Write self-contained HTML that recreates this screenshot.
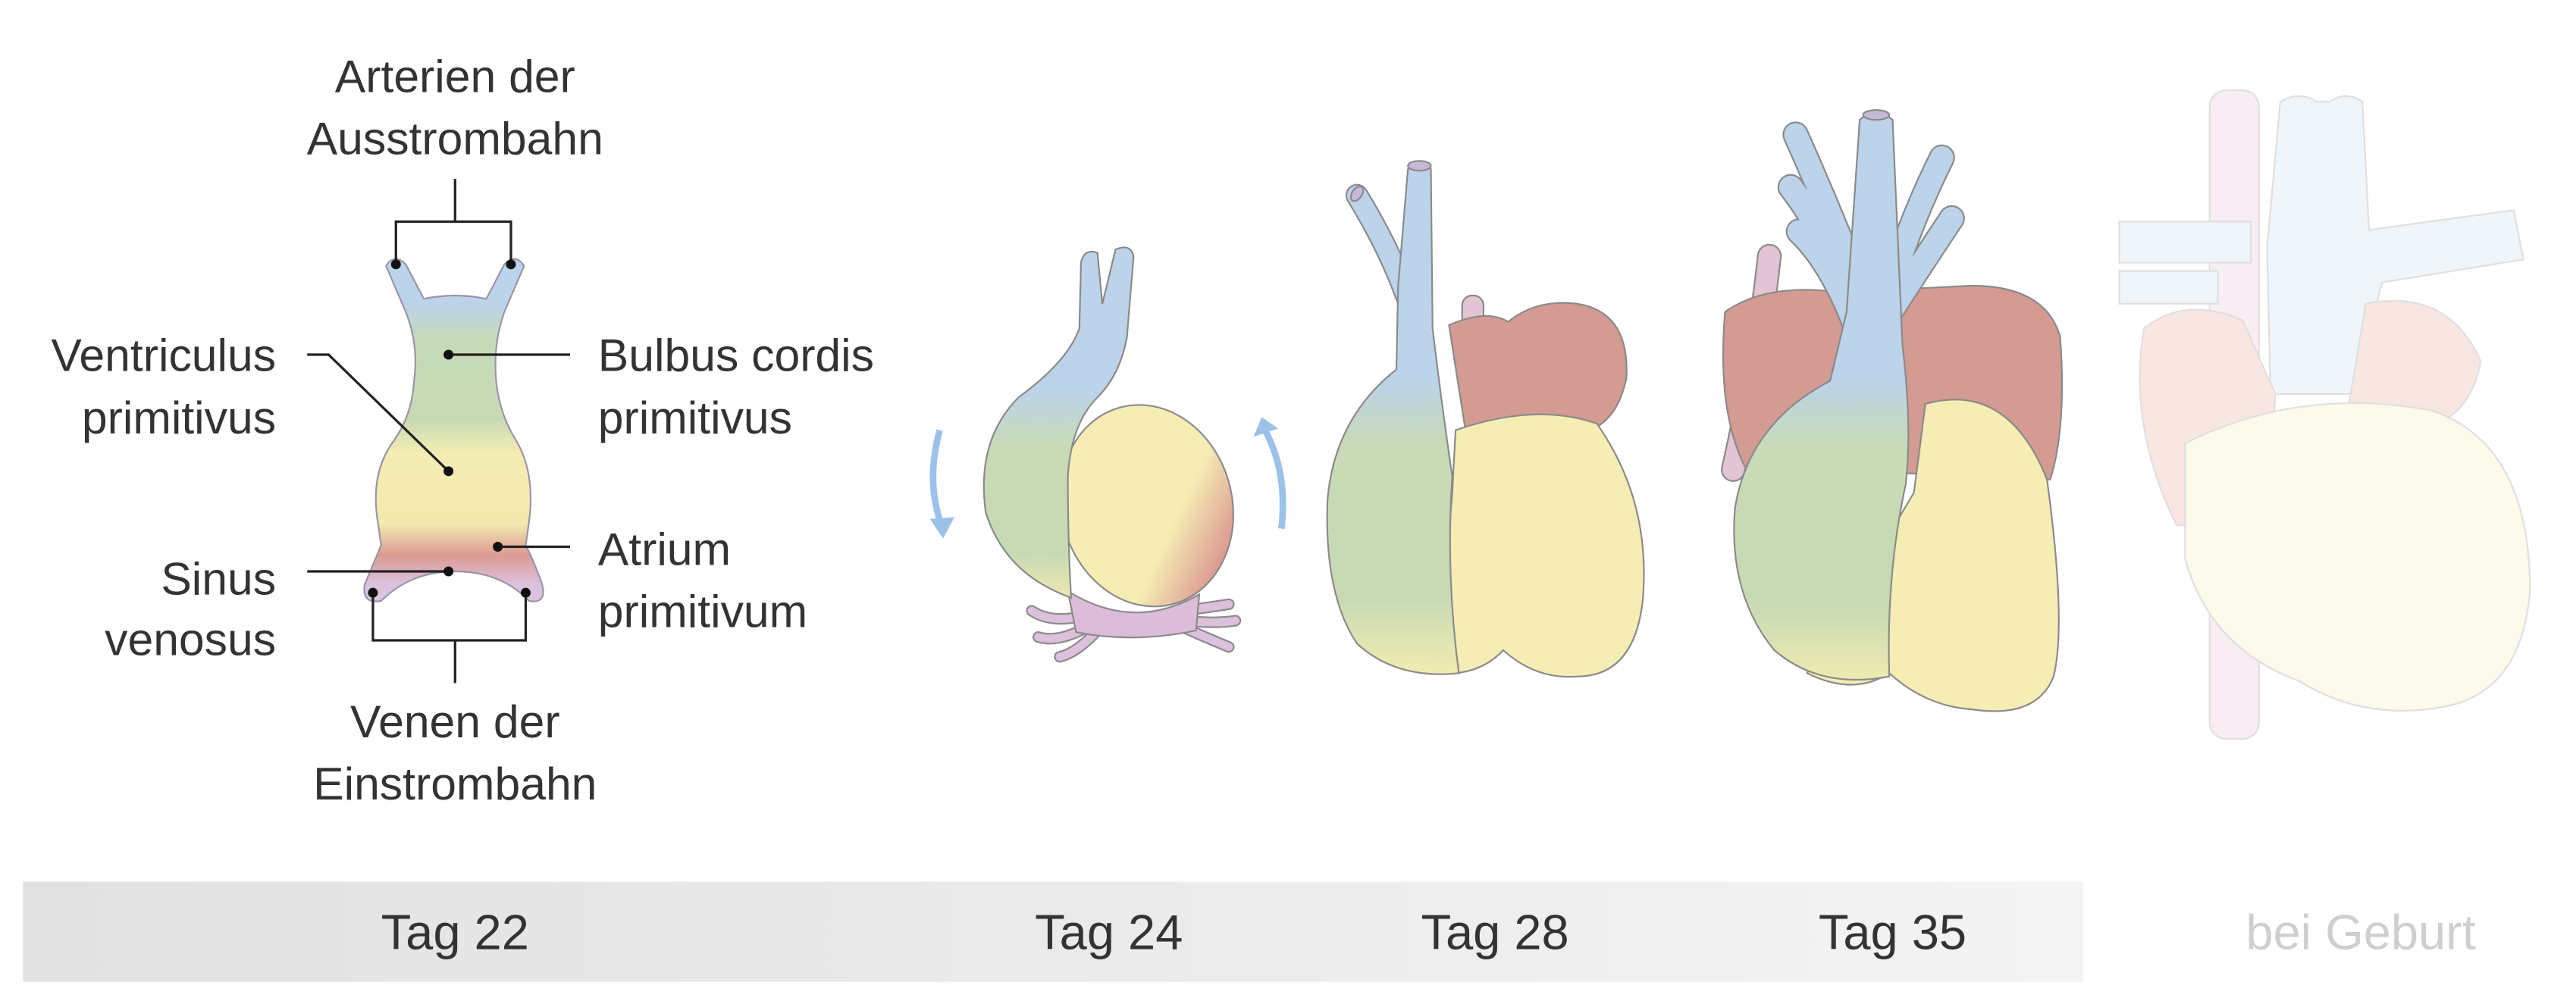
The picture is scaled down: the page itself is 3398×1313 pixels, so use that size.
<!DOCTYPE html>
<html><head><meta charset="utf-8"><style>
html,body{margin:0;padding:0;background:#fff;}
svg{display:block;}
text{font-family:"Liberation Sans",sans-serif;fill:#333;}
</style></head><body>
<svg width="3398" height="1313" viewBox="0 0 1568 606" preserveAspectRatio="none" xmlns="http://www.w3.org/2000/svg">
<defs>
<linearGradient id="tube" x1="0" y1="160" x2="0" y2="372" gradientUnits="userSpaceOnUse">
<stop offset="0" stop-color="#bcd3ea"/><stop offset="0.12" stop-color="#bcd3ea"/><stop offset="0.22" stop-color="#c6dab8"/><stop offset="0.45" stop-color="#c8dab4"/><stop offset="0.55" stop-color="#f4edb2"/><stop offset="0.75" stop-color="#f4eab0"/><stop offset="0.84" stop-color="#dc9a92"/><stop offset="0.92" stop-color="#dcc0dc"/><stop offset="1" stop-color="#dcc6e0"/>
</linearGradient>
<linearGradient id="bg" x1="0" y1="0" x2="1" y2="0">
<stop offset="0" stop-color="#e2e2e2"/><stop offset="0.6" stop-color="#ececec"/><stop offset="1" stop-color="#f4f4f4"/>
</linearGradient>
<linearGradient id="g24" x1="0" y1="150" x2="0" y2="370" gradientUnits="userSpaceOnUse">
<stop offset="0" stop-color="#bcd3ea"/><stop offset="0.4" stop-color="#bcd3ea"/><stop offset="0.55" stop-color="#c8dab6"/><stop offset="0.85" stop-color="#c8dab4"/><stop offset="1" stop-color="#f3ecb0"/>
</linearGradient>
<linearGradient id="g28" x1="0" y1="100" x2="0" y2="412" gradientUnits="userSpaceOnUse">
<stop offset="0" stop-color="#bcd3ea"/><stop offset="0.42" stop-color="#bcd3ea"/><stop offset="0.55" stop-color="#c8dab6"/><stop offset="0.85" stop-color="#c8dab4"/><stop offset="1" stop-color="#f3ecb0"/>
</linearGradient>
<linearGradient id="g35" x1="0" y1="70" x2="0" y2="420" gradientUnits="userSpaceOnUse">
<stop offset="0" stop-color="#bcd3ea"/><stop offset="0.46" stop-color="#bcd3ea"/><stop offset="0.58" stop-color="#c8dab6"/><stop offset="0.85" stop-color="#c8dab4"/><stop offset="1" stop-color="#f3ecb0"/>
</linearGradient>
<linearGradient id="yelred" x1="0" y1="0" x2="1" y2="1">
<stop offset="0" stop-color="#f5edb4"/><stop offset="0.62" stop-color="#f5edb4"/><stop offset="0.85" stop-color="#dc9a92"/><stop offset="1" stop-color="#dca0a0"/>
</linearGradient>
</defs>

<rect x="14" y="537" width="1254" height="61" fill="url(#bg)"/>
<text x="277" y="578" font-size="30" text-anchor="middle">Tag 22</text>
<text x="675" y="578" font-size="30" text-anchor="middle">Tag 24</text>
<text x="910" y="578" font-size="30" text-anchor="middle">Tag 28</text>
<text x="1152" y="578" font-size="30" text-anchor="middle">Tag 35</text>
<text x="1437" y="578" font-size="30" text-anchor="middle" style="fill:#cfcfcf">bei Geburt</text>

<!-- Tag 22 tube -->
<g>
<path d="M235,162 Q240,154 247,161 L258,182 Q277,178 296,182 L307,161 Q314,154 319,162 L307,190 Q300,210 302,232 Q304,252 314,268 Q326,288 322,318 L320,332 Q326,344 330,356 Q333,368 322,366 Q305,348 277,348 Q250,348 232,366 Q220,368 222,356 Q227,344 232,332 L230,318 Q225,288 240,268 Q251,252 252,232 Q255,210 247,190 Z" fill="url(#tube)" stroke="#9a94a8" stroke-width="1"/>
</g>
<g stroke="#222" stroke-width="1.5" fill="none">
<path d="M277,109 V135 M241,161 V135 H311 V161"/>
<path d="M227,361 V390 H320 V361 M277,390 V416"/>
<path d="M187,216 H200 L273,287"/>
<path d="M273,216 H347"/>
<path d="M187,348 H273"/>
<path d="M303,333 H347"/>
</g>
<g fill="#111">
<circle cx="241" cy="161" r="3"/><circle cx="311" cy="161" r="3"/>
<circle cx="273" cy="216" r="3"/><circle cx="273" cy="287" r="3"/>
<circle cx="273" cy="348" r="3"/><circle cx="303" cy="333" r="3"/>
<circle cx="227" cy="361" r="3"/><circle cx="320" cy="361" r="3"/>
</g>
<g font-size="28">
<text x="277" y="56" text-anchor="middle">Arterien der</text>
<text x="277" y="94" text-anchor="middle">Ausstrombahn</text>
<text x="168" y="226" text-anchor="end">Ventriculus</text>
<text x="168" y="264" text-anchor="end">primitivus</text>
<text x="364" y="226">Bulbus cordis</text>
<text x="364" y="264">primitivus</text>
<text x="364" y="344">Atrium</text>
<text x="364" y="382">primitivum</text>
<text x="168" y="362" text-anchor="end">Sinus</text>
<text x="168" y="399" text-anchor="end">venosus</text>
<text x="277" y="449" text-anchor="middle">Venen der</text>
<text x="277" y="487" text-anchor="middle">Einstrombahn</text>
</g>

<!-- Tag 24 -->
<g stroke="#8a8a8a" stroke-width="1">
<path d="M572,262 Q563,295 574,322" stroke="#9cc2ea" stroke-width="4" fill="none"/>
<path d="M566,316 L574,328 L581,315 Z" fill="#9cc2ea" stroke="none"/>
<path d="M780,322 Q784,288 770,262" stroke="#9cc2ea" stroke-width="4" fill="none"/>
<path d="M763,266 L768,254 L778,261 Z" fill="#9cc2ea" stroke="none"/>
<g fill="none" stroke-linecap="round">
<path d="M660,375 Q640,380 628,372 M665,380 Q645,392 632,388 M668,384 Q655,398 645,400 M720,372 Q735,370 748,368 M722,378 Q740,380 752,378 M720,382 Q738,390 748,394" stroke="#8a8a8a" stroke-width="7"/>
<path d="M660,375 Q640,380 628,372 M665,380 Q645,392 632,388 M668,384 Q655,398 645,400 M720,372 Q735,370 748,368 M722,378 Q740,380 752,378 M720,382 Q738,390 748,394" stroke="#dcc0dc" stroke-width="5"/>
</g>
<path d="M650,360 Q690,385 730,362 L728,384 Q690,392 655,385 Z" fill="#dcbcd8"/>
<ellipse cx="698" cy="308" rx="52" ry="62" transform="rotate(-15 698 308)" fill="url(#yelred)"/>
<path d="M658,160 Q660,151 668,154 L671,185 L679,152 Q688,148 690,156 L686,205 Q682,228 668,242 Q652,258 650,290 Q650,330 652,364 Q612,350 600,312 Q594,268 620,242 Q650,220 657,200 Z" fill="url(#g24)"/>
</g>

<!-- Tag 28 -->
<g stroke="#8a8a8a" stroke-width="1">
<rect x="890" y="180" width="13" height="30" rx="6" fill="#e2c4d4"/>
<path d="M882,198 Q905,188 918,196 Q935,182 960,185 Q992,190 990,230 Q985,255 968,262 L892,262 Z" fill="#d39b92"/>
<path d="M886,262 Q935,245 972,258 Q1005,305 1000,365 Q995,412 960,412 Q935,414 915,396 Q900,412 875,410 L884,300 Z" fill="#f5edb4"/>
<g fill="none" stroke-linecap="round">
<path d="M826,119 Q845,150 856,180" stroke="#8a8a8a" stroke-width="14"/>
<path d="M826,119 Q845,150 856,180" stroke="#bcd3ea" stroke-width="12"/>
</g>
<path d="M857,103 Q864,96 871,103 L872,200 Q878,250 884,290 Q880,350 888,410 Q850,414 826,392 Q806,362 808,305 Q812,255 850,225 L851,175 Z" fill="url(#g28)"/>
<ellipse cx="864" cy="101" rx="7" ry="3" fill="#c8b8d8"/>
<ellipse cx="826" cy="118" rx="5" ry="3" fill="#c8b8d8" transform="rotate(-55 826 118)"/>
</g>

<!-- Tag 35 -->
<g stroke="#8a8a8a" stroke-width="1">
<g fill="none" stroke-linecap="round">
<path d="M1077,156 Q1070,220 1055,286" stroke="#8a8a8a" stroke-width="15"/>
<path d="M1077,156 Q1070,220 1055,286" stroke="#e2c4d4" stroke-width="13"/>
</g>
<path d="M1050,190 Q1075,172 1120,178 L1200,174 Q1245,174 1254,205 Q1258,260 1248,292 L1062,284 Q1045,250 1050,190 Z" fill="#d39b92"/>
<path d="M1172,246 Q1222,232 1246,292 Q1258,380 1250,412 Q1240,438 1200,432 Q1172,430 1150,410 Q1128,424 1100,410 L1165,300 Z" fill="#f5edb4"/>
<g fill="none" stroke-linecap="round">
<path d="M1093,82 Q1110,120 1130,170 M1182,96 Q1165,130 1152,170 M1090,114 Q1110,140 1130,185 M1188,133 Q1170,160 1152,188 M1095,141 Q1115,160 1130,200" stroke="#8a8a8a" stroke-width="16"/>
<path d="M1093,82 Q1110,120 1130,170 M1182,96 Q1165,130 1152,170 M1090,114 Q1110,140 1130,185 M1188,133 Q1170,160 1152,188 M1095,141 Q1115,160 1130,200" stroke="#bcd3ea" stroke-width="14"/>
</g>
<path d="M1132,73 Q1142,64 1152,73 L1158,210 Q1164,260 1160,295 Q1148,350 1150,412 Q1108,420 1080,396 Q1052,362 1056,310 Q1064,258 1114,232 L1124,190 Z" fill="url(#g35)"/>
<ellipse cx="1142" cy="70" rx="8" ry="3" fill="#c8b8d8"/>
</g>

<!-- bei Geburt (faded) -->
<g opacity="0.3" stroke="#999" stroke-width="1">
<rect x="1345" y="55" width="30" height="395" rx="10" fill="#e6c6d6"/>
<path d="M1290,135 H1370 V160 H1290 Z M1290,165 H1350 V185 H1290 Z" fill="#cfe0f0"/>
<path d="M1388,62 Q1400,55 1410,62 L1418,62 Q1428,55 1438,62 L1442,140 L1530,128 L1536,158 L1450,172 L1432,240 L1382,240 L1380,150 Z" fill="#cfe0f0"/>
<path d="M1305,200 Q1330,180 1365,195 L1385,240 L1380,320 L1325,320 Q1295,260 1305,200 Z" fill="#e9aea4"/>
<path d="M1440,185 Q1490,175 1510,220 Q1505,250 1480,260 L1430,245 Z" fill="#e9aea4"/>
<path d="M1330,270 Q1400,235 1480,250 Q1540,270 1540,360 Q1535,420 1490,430 Q1440,440 1400,415 Q1345,395 1330,340 Z" fill="#f6f0bc"/>
</g>
</svg>
</body></html>
